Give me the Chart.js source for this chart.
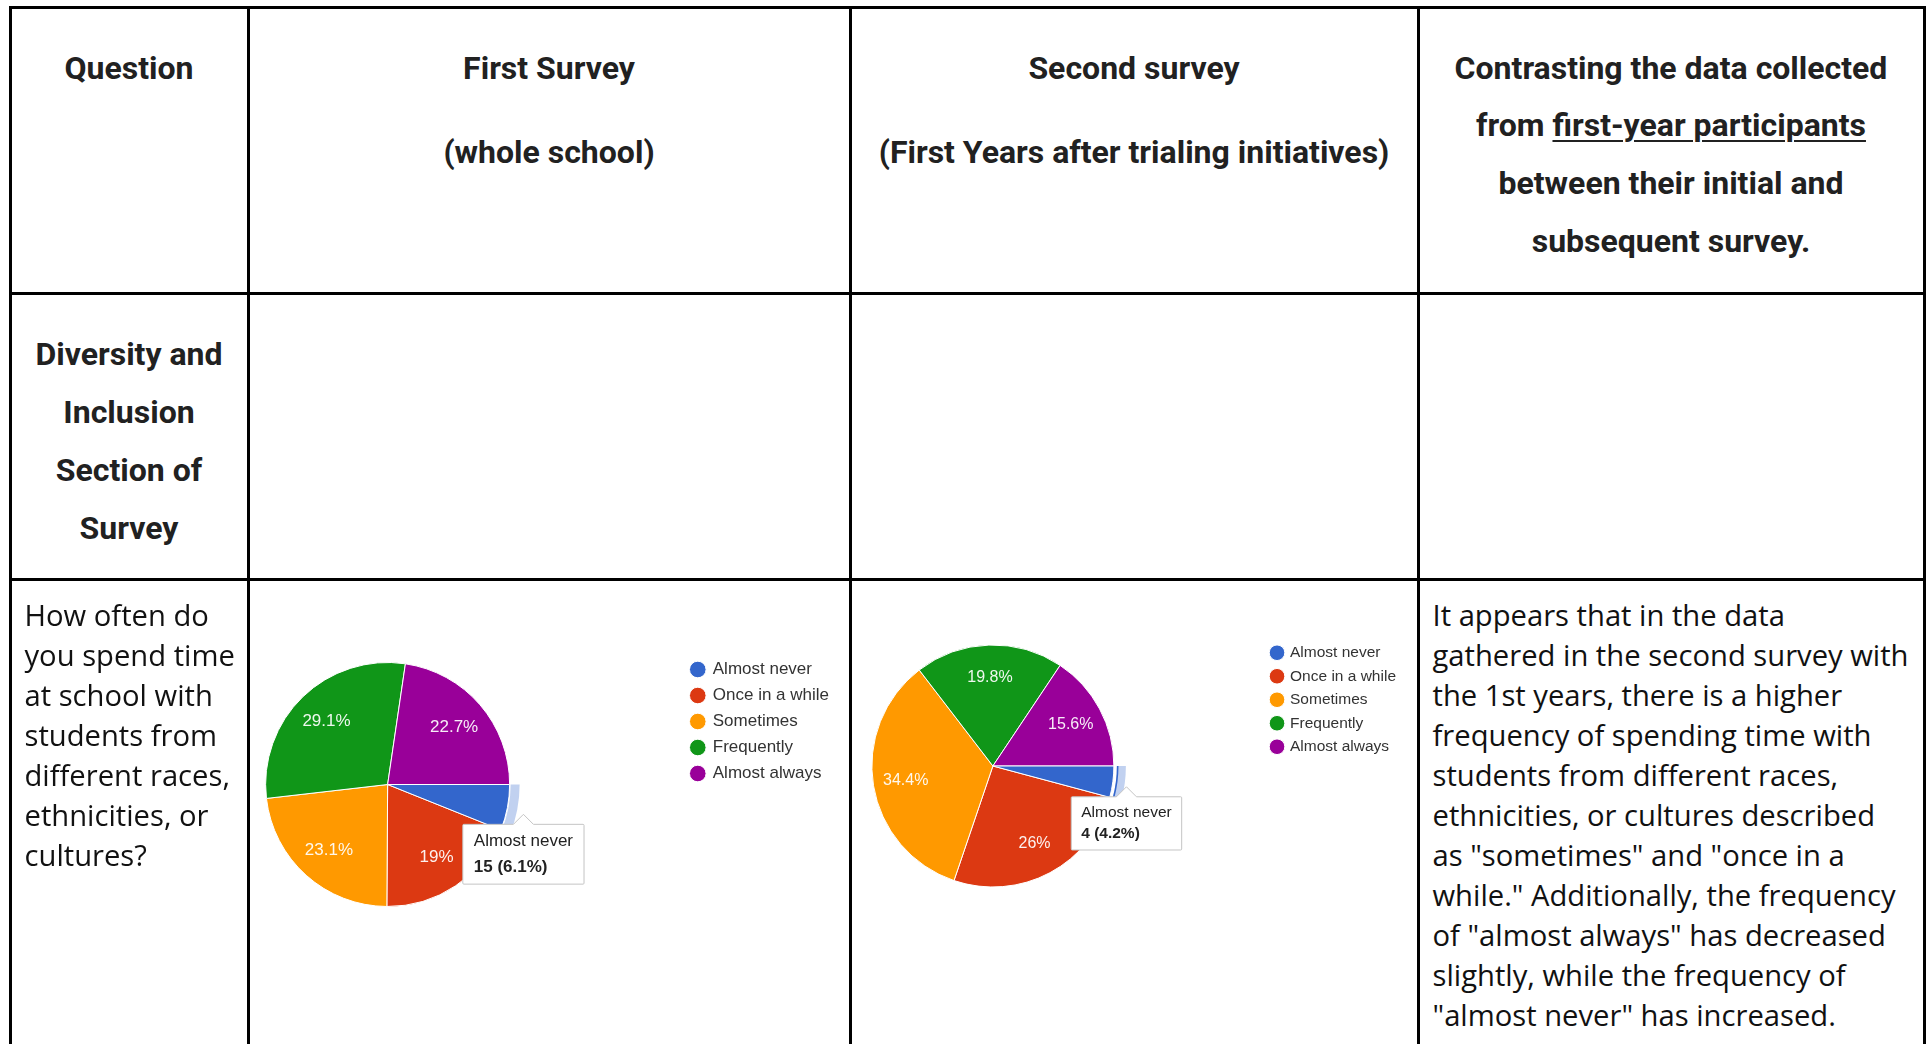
<!DOCTYPE html>
<html>
<head>
<meta charset="utf-8">
<title>Diversity and Inclusion survey comparison</title>
<script src="https://cdn.jsdelivr.net/npm/chart.js@4.4.1/dist/chart.umd.min.js"></script>
<style>
  html, body { margin: 0; padding: 0; background: #ffffff; }
  body { width: 1931px; height: 1044px; position: relative; overflow: hidden; }
  canvas { position: absolute; z-index: 1; }
  .rule { position: absolute; background: #000000; z-index: 2; }
  .h {
    position: absolute; z-index: 3; white-space: nowrap;
    font-family: Roboto, sans-serif; font-weight: 700; font-size: 32px;
    height: 40px; line-height: 40px; color: #212121;
    transform: translateX(-50%);
  }
  .h u { text-underline-offset: 4px; text-decoration-thickness: 2px; }
  .p {
    position: absolute; z-index: 3; white-space: nowrap;
    font-family: 'Open Sans', sans-serif; font-size: 29.2px; line-height: 40px; color: #111111;
  }
</style>
</head>
<body>

<!-- table rules -->
<div class="rule" style="left:9px;top:5.5px;width:3px;height:1040px"></div>
<div class="rule" style="left:247px;top:5.5px;width:3px;height:1040px"></div>
<div class="rule" style="left:849px;top:5.5px;width:3px;height:1040px"></div>
<div class="rule" style="left:1417px;top:5.5px;width:3px;height:1040px"></div>
<div class="rule" style="left:1923px;top:5.5px;width:3px;height:1040px"></div>
<div class="rule" style="left:9px;top:5.5px;width:1917px;height:3px"></div>
<div class="rule" style="left:9px;top:292px;width:1917px;height:3px"></div>
<div class="rule" style="left:9px;top:577.5px;width:1917px;height:3px"></div>

<!-- header row -->
<div class="h" style="left:129px;top:48px">Question</div>
<div class="h" style="left:549px;top:48px">First Survey</div>
<div class="h" style="left:549px;top:131.8px">(whole school)</div>
<div class="h" style="left:1134px;top:48px">Second survey</div>
<div class="h" style="left:1134px;top:131.8px">(First Years after trialing initiatives)</div>
<div class="h" style="left:1671px;top:48px">Contrasting the data collected</div>
<div class="h" style="left:1671px;top:104.8px">from <u>first-year participants</u></div>
<div class="h" style="left:1671px;top:162.6px">between their initial and</div>
<div class="h" style="left:1671px;top:220.5px">subsequent survey.</div>

<!-- section row -->
<div class="h" style="left:129px;top:333.8px">Diversity and</div>
<div class="h" style="left:129px;top:391.7px">Inclusion</div>
<div class="h" style="left:129px;top:449.6px">Section of</div>
<div class="h" style="left:129px;top:507.5px">Survey</div>

<!-- question row -->
<div class="p" style="left:24.5px;top:595px">How often do<br>you spend time<br>at school with<br>students from<br>different races,<br>ethnicities, or<br>cultures?</div>
<div class="p" style="left:1432.5px;top:595px">It appears that in the data<br>gathered in the second survey with<br>the 1st years, there is a higher<br>frequency of spending time with<br>students from different races,<br>ethnicities, or cultures described<br>as "sometimes" and "once in a<br>while." Additionally, the frequency<br>of "almost always" has decreased<br>slightly, while the frequency of<br>"almost never" has increased.</div>

<canvas id="firstPie"></canvas>
<canvas id="secondPie"></canvas>

<script>
// Answer options and response counts for each survey
const categories = ['Almost never', 'Once in a while', 'Sometimes', 'Frequently', 'Almost always'];
const firstSurveyCounts = [15, 47, 57, 72, 56];   // whole school
const secondSurveyCounts = [4, 25, 33, 19, 15];   // first years after the initiatives
const sliceColors = ['#3366cc', '#dc3912', '#ff9900', '#109618', '#990099'];
const highlightedIndex = 0; // slice shown with its hover card

const chartFont = "'Liberation Sans', Arial, sans-serif";

// Placement of each pie inside its table cell
const pieLayouts = [
  { id: 'firstPie', counts: firstSurveyCounts, cx: 387, cy: 784, r: 122,
    legendX: 697, legendY: 669, legendFont: 17, legendGap: 9, dotR: 8.3, dotToText: 15,
    labelFont: 17, labelDist: 0.72, tipFont: 17, tipPadX: 11, tipPadY: 7, tipMargin: 5,
    caretSize: 10, caretPadding: 6.7, tipShiftX: 16, ring: { from: 1, to: 10, edge: false } },
  { id: 'secondPie', counts: secondSurveyCounts, cx: 993, cy: 766, r: 121,
    legendX: 1277, legendY: 653, legendFont: 15.5, legendGap: 8, dotR: 7.8, dotToText: 13,
    labelFont: 16, labelDist: 0.73, tipFont: 15.5, tipPadX: 10, tipPadY: 7, tipMargin: 2,
    caretSize: 10, caretPadding: 5, tipShiftX: 13.6, ring: { from: 3, to: 12, edge: true } }
];

function formatShare(share) {
  return (Math.round(share * 1000) / 10) + '%';
}

function sumOf(values) {
  return values.reduce((a, b) => a + b, 0);
}

// Tooltip anchored just outside the hovered slice's outer edge
Chart.Tooltip.positioners.sliceEdge = function (items) {
  if (!items.length) return false;
  const cfg = this.chart.$layoutCfg;
  const p = items[0].element.getProps(['x', 'y', 'startAngle', 'endAngle', 'outerRadius'], true);
  const mid = (p.startAngle + p.endAngle) / 2;
  return {
    x: p.x + Math.cos(mid) * p.outerRadius + cfg.tipShiftX,
    y: p.y + Math.sin(mid) * p.outerRadius
  };
};

// Percentage labels inside the slices
const sliceLabels = {
  id: 'sliceLabels',
  afterDatasetsDraw(chart) {
    const cfg = chart.$layoutCfg;
    const ctx = chart.ctx;
    const values = chart.data.datasets[0].data;
    const total = sumOf(values);
    ctx.save();
    ctx.font = cfg.labelFont + 'px ' + chartFont;
    ctx.fillStyle = 'rgba(255,255,255,0.93)';
    ctx.textAlign = 'center';
    ctx.textBaseline = 'middle';
    chart.getDatasetMeta(0).data.forEach((arc, i) => {
      const share = values[i] / total;
      if (share < 0.07) return;
      const p = arc.getProps(['x', 'y', 'startAngle', 'endAngle', 'outerRadius'], true);
      const mid = (p.startAngle + p.endAngle) / 2;
      const d = p.outerRadius * cfg.labelDist;
      ctx.fillText(formatShare(share), p.x + Math.cos(mid) * d, p.y + Math.sin(mid) * d);
    });
    ctx.restore();
  }
};

// Light halo around the hovered slice
const hoverHalo = {
  id: 'hoverHalo',
  afterDatasetsDraw(chart) {
    const ring = chart.$layoutCfg.ring;
    const ctx = chart.ctx;
    chart.getActiveElements().forEach(({ element, index }) => {
      const p = element.getProps(['x', 'y', 'startAngle', 'endAngle', 'outerRadius'], true);
      ctx.save();
      ctx.beginPath();
      ctx.arc(p.x, p.y, p.outerRadius + ring.to, p.startAngle, p.endAngle);
      ctx.arc(p.x, p.y, p.outerRadius + ring.from, p.endAngle, p.startAngle, true);
      ctx.closePath();
      ctx.fillStyle = 'rgba(51,102,204,0.3)';
      ctx.fill();
      if (ring.edge) {
        ctx.beginPath();
        ctx.arc(p.x, p.y, p.outerRadius + ring.from + 0.8, p.startAngle, p.endAngle);
        ctx.strokeStyle = sliceColors[index];
        ctx.lineWidth = 1.6;
        ctx.stroke();
      }
      ctx.restore();
    });
  }
};

const measureCtx = document.createElement('canvas').getContext('2d');

pieLayouts.forEach(cfg => {
  const boxHeight = cfg.dotR * Math.SQRT2;
  const boxWidth = 2 * (cfg.dotToText - cfg.legendFont / 2);
  measureCtx.font = 'normal ' + cfg.legendFont + 'px ' + chartFont;
  const maxText = Math.max(...categories.map(t => measureCtx.measureText(t).width));

  // legend sits right of the chart area; the pie is centred in the chart area
  const legendLeft = cfg.legendX - boxWidth / 2 - cfg.legendGap;
  const legendWidth = cfg.legendGap + boxWidth + cfg.legendFont / 2 + maxText + 10;
  const left = 2 * cfg.cx - legendLeft;
  const top = cfg.legendY - cfg.legendGap - cfg.legendFont / 2;
  const width = Math.round(legendLeft + legendWidth - left);
  const height = Math.round(2 * (cfg.cy - top));

  const canvas = document.getElementById(cfg.id);
  canvas.width = width;
  canvas.height = height;
  canvas.style.left = Math.round(left) + 'px';
  canvas.style.top = Math.round(top) + 'px';

  const total = sumOf(cfg.counts);
  const chart = new Chart(canvas, {
    type: 'pie',
    data: {
      labels: categories,
      datasets: [{
        data: cfg.counts,
        backgroundColor: sliceColors,
        hoverBackgroundColor: sliceColors,
        borderColor: '#ffffff',
        hoverBorderColor: '#ffffff',
        borderWidth: 1,
        hoverBorderWidth: 1,
        hoverOffset: 0
      }]
    },
    options: {
      responsive: false,
      animation: false,
      events: [],
      rotation: 90,
      radius: cfg.r,
      layout: { padding: 0 },
      plugins: {
        legend: {
          position: 'right',
          align: 'start',
          labels: {
            usePointStyle: true,
            pointStyle: 'circle',
            boxWidth: boxWidth,
            boxHeight: boxHeight,
            padding: cfg.legendGap,
            color: '#333333',
            font: { family: chartFont, size: cfg.legendFont }
          }
        },
        tooltip: {
          enabled: true,
          position: 'sliceEdge',
          xAlign: 'center',
          yAlign: 'top',
          displayColors: false,
          backgroundColor: '#ffffff',
          borderColor: '#c4c4c4',
          borderWidth: 1,
          cornerRadius: 1,
          caretSize: cfg.caretSize,
          caretPadding: cfg.caretPadding,
          padding: { x: cfg.tipPadX, y: cfg.tipPadY },
          titleColor: '#222222',
          bodyColor: '#222222',
          titleFont: { family: chartFont, size: cfg.tipFont, weight: 'normal' },
          bodyFont: { family: chartFont, size: cfg.tipFont, weight: 'bold' },
          titleMarginBottom: cfg.tipMargin,
          callbacks: {
            title: items => items[0].label,
            label: item => item.raw + ' (' + formatShare(item.raw / total) + ')'
          }
        }
      }
    },
    plugins: [
      { id: 'layoutCfg', beforeInit(chart) { chart.$layoutCfg = cfg; } },
      hoverHalo,
      sliceLabels
    ]
  });

  const active = [{ datasetIndex: 0, index: highlightedIndex }];
  chart.setActiveElements(active);
  chart.tooltip.setActiveElements(active, { x: cfg.cx, y: cfg.cy });
  chart.update();
});
</script>
</body>
</html>
